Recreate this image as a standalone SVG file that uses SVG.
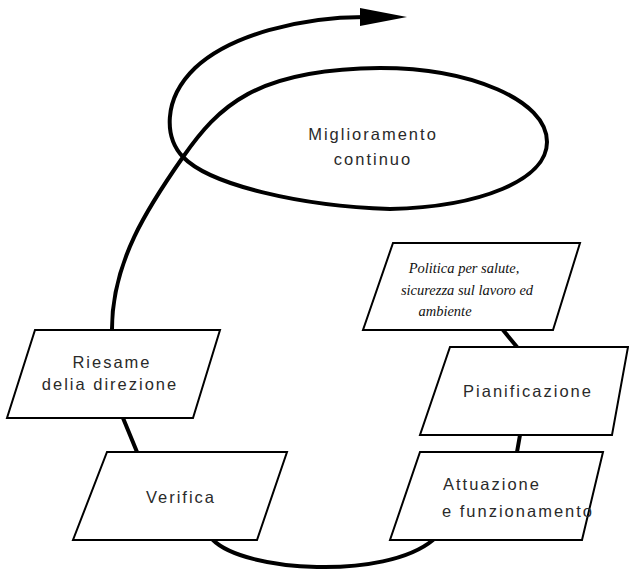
<svg xmlns="http://www.w3.org/2000/svg" width="629" height="570" viewBox="0 0 629 570">
<style>
.box{fill:#fff;stroke:#000;stroke-width:2;stroke-linejoin:miter}
.lbl{font-family:"Liberation Sans",Arial,sans-serif;font-size:16.5px;letter-spacing:2px;fill:#2a2a2a}
.it{font-family:"Liberation Serif","Times New Roman",serif;font-style:italic;font-size:14.5px;fill:#111}
.ln{fill:none;stroke:#000;stroke-width:4;stroke-linecap:round}
</style>
<rect width="629" height="570" fill="#fff"/>
<g id="connectors">
<path class="ln" d="M112,329 C112,262 148,207 183,157 C218,107 255,69 380,68 C470,68 547,100 547,142 C547,180 480,207 390,209 C300,206 210,185 183,157 C165,138 162,100 195,68 C230,35 300,17 365,17"/>
<polygon points="360,8 407,17 360,26" fill="#000"/>
<path class="ln" d="M503,330 L517,347"/>
<path class="ln" d="M520,435 L517,452"/>
<path class="ln" d="M123,418 L137,452"/>
<path class="ln" d="M213,540 C245,572 385,580 433,540"/>
</g>
<g id="miglioramento">
<text class="lbl" x="373" y="140" text-anchor="middle">Miglioramento</text>
<text class="lbl" x="373" y="165" text-anchor="middle">continuo</text>
</g>
<g id="politica">
<polygon class="box" points="393,243 580,243 553,330 363,330"/>
<text class="it" x="464" y="273" text-anchor="middle">Politica per salute,</text>
<text class="it" x="467" y="295" text-anchor="middle">sicurezza sul lavoro ed</text>
<text class="it" x="445" y="316" text-anchor="middle">ambiente</text>
</g>
<g id="pianificazione">
<polygon class="box" points="450,347 628,347 612,435 420,435"/>
<text class="lbl" x="528" y="397" text-anchor="middle">Pianificazione</text>
</g>
<g id="attuazione">
<polygon class="box" points="420,452 603,452 582,540 390,540"/>
<text class="lbl" x="443" y="490">Attuazione</text>
<text class="lbl" x="442" y="517">e funzionamento</text>
</g>
<g id="riesame">
<polygon class="box" points="35,330 220,330 193,418 7,418"/>
<text class="lbl" x="112" y="368" text-anchor="middle">Riesame</text>
<text class="lbl" x="110" y="390" text-anchor="middle">delia direzione</text>
</g>
<g id="verifica">
<polygon class="box" points="107,452 287,452 257,540 73,540"/>
<text class="lbl" x="181" y="503" text-anchor="middle">Verifica</text>
</g>
</svg>
